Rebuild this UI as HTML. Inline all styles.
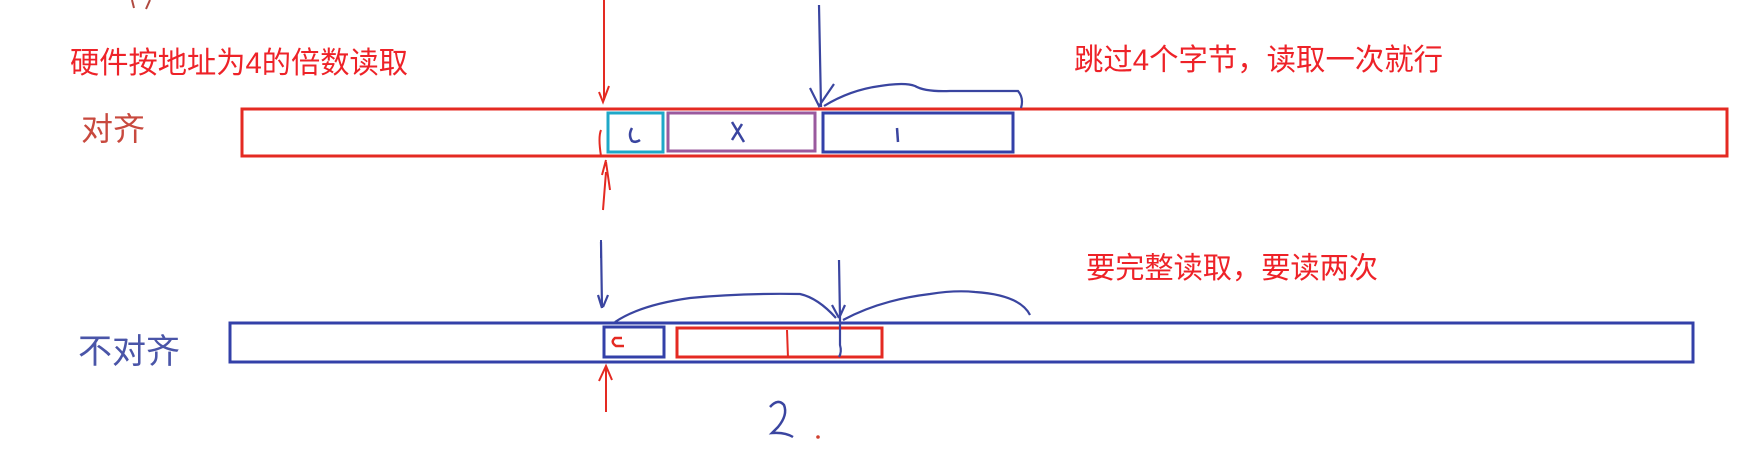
<!DOCTYPE html>
<html><head><meta charset="utf-8"><style>
html,body{margin:0;padding:0;background:#fff;width:1740px;height:450px;overflow:hidden}
svg{display:block}
text{font-family:"Liberation Sans","Noto Sans CJK SC",sans-serif}
</style></head><body>
<svg width="1740" height="450" viewBox="0 0 1740 450" xmlns="http://www.w3.org/2000/svg">
<rect width="1740" height="450" fill="#fff"/>
<path d="M132 0 L134 8 M150 0 L146 9" stroke="#b04a40" stroke-width="2" fill="none"/>
<text x="70" y="73" font-size="30" fill="#ee2228" textLength="338" lengthAdjust="spacingAndGlyphs">硬件按地址为4的倍数读取</text>
<text x="1074" y="70" font-size="30" fill="#ee2228" textLength="369" lengthAdjust="spacingAndGlyphs">跳过4个字节，读取一次就行</text>
<text x="1086" y="278" font-size="29.5" fill="#ee2228" textLength="292" lengthAdjust="spacingAndGlyphs">要完整读取，要读两次</text>
<text x="81" y="140" font-size="32" fill="#c8493e">对齐</text>
<text x="78" y="363" font-size="34" fill="#4a55a8">不对齐</text>

<rect x="242" y="109" width="1485" height="47" fill="none" stroke="#e42a22" stroke-width="3"/>
<rect x="608" y="113" width="55" height="39" fill="none" stroke="#1fa8c8" stroke-width="3"/>
<rect x="668" y="113" width="147" height="38" fill="none" stroke="#9a5a9e" stroke-width="3"/>
<rect x="823" y="113" width="190" height="39" fill="none" stroke="#3340a8" stroke-width="3"/>
<path d="M632 128 Q628 135 632 141 Q636 143 640 140" stroke="#3a45a0" stroke-width="2.5" fill="none"/>
<path d="M732 122 L744 142 M742 124 L732 140" stroke="#3a45a0" stroke-width="2.5" fill="none"/>
<path d="M897 128 L898 142" stroke="#3a45a0" stroke-width="2.5" fill="none"/>

<path d="M604 0 L604 100 M599 92 L603 102 L609 86" stroke="#e42a22" stroke-width="2" fill="none"/>
<path d="M601 130 Q598 137 601 156" stroke="#e42a22" stroke-width="2" fill="none"/>
<path d="M606 160 L602 175 M606 162 L610 190 M606 172 L603 210" stroke="#e42a22" stroke-width="2" fill="none"/>
<path d="M601 240 L601 258" stroke="#3a45a0" stroke-width="2" fill="none"/>
<path d="M819 5 L821 107 M810 88 L819 106 L834 84" stroke="#3a45a0" stroke-width="2.2" fill="none"/>
<path d="M824 106 Q850 90 880 86 Q905 82 915 86 Q925 92 950 91 L1018 91 Q1024 98 1021 108" stroke="#3a45a0" stroke-width="2.2" fill="none"/>

<rect x="230" y="323" width="1463" height="39" fill="none" stroke="#3340a8" stroke-width="3"/>
<rect x="604" y="327" width="60" height="30" fill="none" stroke="#3340a8" stroke-width="3"/>
<rect x="677" y="328" width="205" height="29" fill="none" stroke="#e42a22" stroke-width="3"/>
<path d="M622 338 L615 338 Q610 342 616 346 L624 346" stroke="#e42a22" stroke-width="2.5" fill="none"/>
<path d="M787 330 L788 358" stroke="#e42a22" stroke-width="2" fill="none"/>
<path d="M601 242 L602 308 M598 295 L602 308 M608 295 L603 307" stroke="#3a45a0" stroke-width="2.2" fill="none"/>
<path d="M615 322 Q640 305 690 298 Q740 293 800 294 Q818 298 836 318" stroke="#3a45a0" stroke-width="2.2" fill="none"/>
<path d="M839 260 L840 318 L840 345 Q842 352 839 357 M832 305 L839 318 M845 305 L840 316" stroke="#3a45a0" stroke-width="2.2" fill="none"/>
<path d="M843 320 Q880 300 930 294 Q955 290 975 292 Q1020 295 1030 315" stroke="#3a45a0" stroke-width="2.2" fill="none"/>
<path d="M606 366 L606 412 M599 381 L606 366 L612 380" stroke="#e42a22" stroke-width="2" fill="none"/>
<path d="M770 407 Q778 398 784 405 Q788 415 778 427 L772 433 Q785 432 793 437" stroke="#3a45a0" stroke-width="2.5" fill="none"/>
<circle cx="818" cy="437" r="1.8" fill="#d04030"/>
</svg>
</body></html>
